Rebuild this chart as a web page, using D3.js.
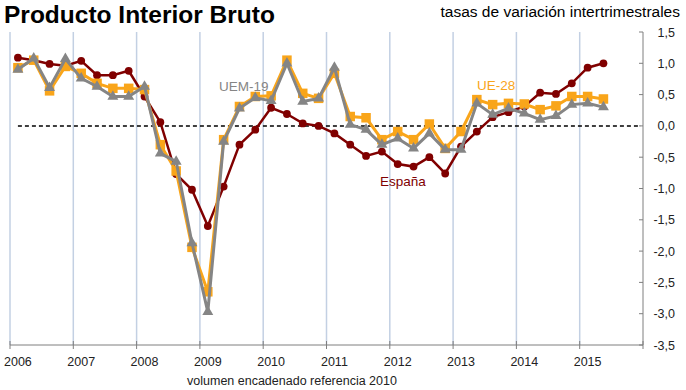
<!DOCTYPE html>
<html>
<head>
<meta charset="utf-8">
<script src="https://cdn.jsdelivr.net/npm/d3@7"></script>
<style>
  body { margin: 0; background: #fff; }
  svg { display: block; font-family: "Liberation Sans", Arial, sans-serif; }
</style>
</head>
<body>
<svg id="svg" width="686" height="390"></svg>
<script>
// trimestres 2006T1 - 2015T4
const quarters = [
  "2006T1", "2006T2", "2006T3", "2006T4", "2007T1", "2007T2", "2007T3", "2007T4",
  "2008T1", "2008T2", "2008T3", "2008T4", "2009T1", "2009T2", "2009T3", "2009T4",
  "2010T1", "2010T2", "2010T3", "2010T4", "2011T1", "2011T2", "2011T3", "2011T4",
  "2012T1", "2012T2", "2012T3", "2012T4", "2013T1", "2013T2", "2013T3", "2013T4",
  "2014T1", "2014T2", "2014T3", "2014T4", "2015T1", "2015T2", "2015T3", "2015T4"
];
const years = ["2006", "2007", "2008", "2009", "2010", "2011", "2012", "2013", "2014", "2015"];

const espana = [1.09, 1.05, 0.99, 0.96, 1.04, 0.81, 0.81, 0.88, 0.47, 0.06, -0.77, -1.02,
  -1.60, -0.97, -0.30, -0.06, 0.29, 0.19, 0.04, 0.0, -0.12, -0.30, -0.48, -0.41,
  -0.61, -0.65, -0.50, -0.76, -0.33, -0.09, 0.14, 0.22, 0.31, 0.53, 0.51, 0.68, 0.93, 1.0];

const ue28 = [0.93, 1.05, 0.56, 0.95, 0.84, 0.68, 0.60, 0.60, 0.58, -0.30, -0.72, -1.94,
  -2.65, -0.22, 0.31, 0.47, 0.48, 1.05, 0.52, 0.44, 0.84, 0.15, 0.13, -0.22,
  -0.09, -0.22, 0.03, -0.36, -0.09, 0.42, 0.34, 0.36, 0.35, 0.26, 0.32, 0.47, 0.47, 0.43];

const uem19 = [0.90, 1.08, 0.61, 1.07, 0.76, 0.63, 0.47, 0.47, 0.63, -0.44, -0.57, -1.87,
  -2.97, -0.25, 0.28, 0.45, 0.40, 1.00, 0.39, 0.44, 0.93, 0.02, -0.06, -0.30,
  -0.20, -0.36, -0.12, -0.38, -0.38, 0.36, 0.18, 0.28, 0.20, 0.10, 0.16, 0.34, 0.36, 0.30];

const yTicks = [1.5, 1.0, 0.5, 0.0, -0.5, -1.0, -1.5, -2.0, -2.5, -3.0, -3.5];

const colEsp = "#800000";
const colUe = "#f9a51a";
const colUem = "#858585";

const svg = d3.select("#svg");

const x = d3.scaleBand().domain(quarters).range([10, 643]);
const y = d3.scaleLinear().domain([-3.5, 1.5]).range([345, 32]);
const cx = q => x(q) + x.bandwidth() / 2;
const fmt = v => d3.format(".1f")(v).replace(".", ",").replace("−", "-");

// gridlines verticales al inicio de cada año
svg.append("g")
  .selectAll("line")
  .data(years)
  .enter()
  .append("line")
  .attr("x1", d => x(d + "T1"))
  .attr("x2", d => x(d + "T1"))
  .attr("y1", 32)
  .attr("y2", 345)
  .attr("stroke", "#c3d0e3")
  .attr("stroke-width", 1.5);

// ejes
const xAxis = svg.append("g").attr("transform", "translate(0,345)");
xAxis.append("line").attr("x1", 10).attr("x2", 643).attr("stroke", "#7f7f7f");
xAxis.selectAll("line.tk")
  .data(years.map(d => x(d + "T1")).concat([643]))
  .enter()
  .append("line")
  .attr("class", "tk")
  .attr("x1", d => d).attr("x2", d => d)
  .attr("y1", -4).attr("y2", 4)
  .attr("stroke", "#7f7f7f");
xAxis.selectAll("text")
  .data(years)
  .enter()
  .append("text")
  .attr("x", d => cx(d + "T1"))
  .attr("y", 21)
  .attr("text-anchor", "middle")
  .attr("font-size", 12.5)
  .attr("fill", "#222")
  .text(d => d);

const yAxis = svg.append("g").attr("transform", "translate(643,0)");
yAxis.append("line").attr("y1", 32).attr("y2", 345).attr("stroke", "#7f7f7f");
yAxis.selectAll("line.tk")
  .data(yTicks)
  .enter()
  .append("line")
  .attr("class", "tk")
  .attr("x1", -4).attr("x2", 0)
  .attr("y1", d => y(d)).attr("y2", d => y(d))
  .attr("stroke", "#7f7f7f");
yAxis.selectAll("text")
  .data(yTicks)
  .enter()
  .append("text")
  .attr("x", 32)
  .attr("y", d => y(d) + 4.5)
  .attr("text-anchor", "end")
  .attr("font-size", 12.5)
  .attr("fill", "#222")
  .text(fmt);

// linea de cero discontinua
svg.append("line")
  .attr("x1", cx(quarters[0]))
  .attr("x2", 641)
  .attr("y1", y(0))
  .attr("y2", y(0))
  .attr("stroke", "#000")
  .attr("stroke-width", 1.5)
  .attr("stroke-dasharray", "4,3");

const line = d3.line().x((d, i) => cx(quarters[i])).y(d => y(d));

// España
svg.append("path")
  .attr("d", line(espana))
  .attr("fill", "none")
  .attr("stroke", colEsp)
  .attr("stroke-width", 2.5);
svg.append("g")
  .selectAll("circle")
  .data(espana)
  .enter()
  .append("circle")
  .attr("cx", (d, i) => cx(quarters[i]))
  .attr("cy", d => y(d))
  .attr("r", 3.9)
  .attr("fill", colEsp);

// UE-28
svg.append("path")
  .attr("d", line(ue28))
  .attr("fill", "none")
  .attr("stroke", colUe)
  .attr("stroke-width", 3);
svg.append("g")
  .selectAll("rect")
  .data(ue28)
  .enter()
  .append("rect")
  .attr("x", (d, i) => cx(quarters[i]) - 4.75)
  .attr("y", d => y(d) - 4.75)
  .attr("width", 9.5)
  .attr("height", 9.5)
  .attr("fill", colUe);

// UEM-19
svg.append("path")
  .attr("d", line(uem19))
  .attr("fill", "none")
  .attr("stroke", colUem)
  .attr("stroke-width", 3);
svg.append("g")
  .selectAll("path")
  .data(uem19)
  .enter()
  .append("path")
  .attr("d", d3.symbol().type(d3.symbolTriangle).size(52))
  .attr("transform", (d, i) => `translate(${cx(quarters[i])},${y(d)})`)
  .attr("fill", colUem);

// etiquetas de series
svg.append("text").attr("x", 219).attr("y", 91).attr("font-size", 13.5)
  .attr("fill", colUem).text("UEM-19");
svg.append("text").attr("x", 477).attr("y", 90).attr("font-size", 13.5)
  .attr("fill", colUe).text("UE-28");
svg.append("text").attr("x", 380).attr("y", 186).attr("font-size", 13.5)
  .attr("fill", colEsp).text("España");

// titulos
svg.append("text").attr("x", 4).attr("y", 23).attr("font-size", 24.5)
  .attr("font-weight", "bold").attr("fill", "#000").text("Producto Interior Bruto");
svg.append("text").attr("x", 680).attr("y", 17).attr("font-size", 15.5)
  .attr("text-anchor", "end").attr("fill", "#000").text("tasas de variación intertrimestrales");
svg.append("text").attr("x", 292).attr("y", 385).attr("font-size", 12.5)
  .attr("text-anchor", "middle").attr("fill", "#222").text("volumen encadenado referencia 2010");
</script>
</body>
</html>
